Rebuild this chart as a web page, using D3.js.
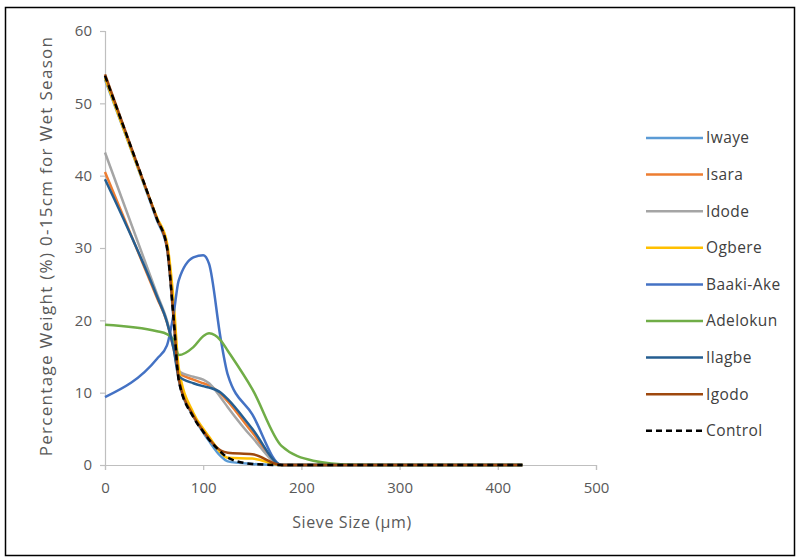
<!DOCTYPE html>
<html>
<head>
<meta charset="utf-8">
<script src="https://cdn.jsdelivr.net/npm/d3@7"></script>
<style>
  html, body { margin: 0; padding: 0; background: #fff; }
  svg { display: block; }
  text { font-family: "Open Sans", "Noto Sans", sans-serif; }
</style>
</head>
<body>
<script>
// ---- Data ----
const sieveSizes = [0, 53, 63, 70, 75, 90, 100, 106, 118, 125, 150, 180, 212, 250, 300, 425];

const seriesNames = ["Iwaye", "Isara", "Idode", "Ogbere", "Baaki-Ake", "Adelokun", "Ilagbe", "Igodo", "Control"];

const iwaye    = [53.3, 33.8, 30.0, 19.8, 11.8, 6.7, 4.5, 3.3, 1.2, 0.5, 0.15, 0, 0, 0, 0, 0];
const isara    = [40.5, 23.1, 19.8, 16.0, 12.8, 11.8, 11.3, 11.0, 9.8, 8.8, 4.5, 0, 0, 0, 0, 0];
const idode    = [43.2, 23.6, 20.0, 16.3, 13.0, 12.2, 11.8, 11.3, 9.3, 8.0, 3.8, 0, 0, 0, 0, 0];
const ogbere   = [53.5, 34.2, 30.8, 22.5, 13.5, 7.2, 5.0, 3.9, 1.7, 1.0, 0.9, 0, 0, 0, 0, 0];
const baakiAke = [9.4, 14.7, 16.5, 21.0, 25.5, 28.7, 29.0, 27.8, 17.3, 12.5, 7.0, 0, 0, 0, 0, 0];
const adelokun = [19.4, 18.5, 18.1, 17.3, 15.2, 16.3, 17.8, 18.2, 17.2, 15.8, 10.5, 2.6, 0.6, 0.05, 0, 0];
const ilagbe   = [39.5, 23.3, 19.8, 16.0, 12.3, 11.3, 10.9, 10.7, 10.0, 9.1, 5.0, 0, 0, 0, 0, 0];
const igodo    = [54.0, 34.0, 30.2, 20.2, 12.0, 6.8, 4.7, 3.6, 2.0, 1.7, 1.5, 0, 0, 0, 0, 0];
const control  = [53.8, 34.0, 30.2, 20.0, 11.8, 6.6, 4.6, 3.5, 1.8, 1.0, 0.15, 0, 0, 0, 0, 0];

const seriesValues = [iwaye, isara, idode, ogbere, baakiAke, adelokun, ilagbe, igodo, control];
const seriesColors = ["#5B9BD5", "#ED7D31", "#A5A5A5", "#FFC000", "#4472C4", "#70AD47", "#255E91", "#9E480E", "#000000"];

const xTicks = [0, 100, 200, 300, 400, 500];
const yTicks = [0, 10, 20, 30, 40, 50, 60];
const xTitle = "Sieve Size (\u00B5m)";
const yTitle = "Percentage Weight (%) 0-15cm for Wet Season";

// ---- Layout ----
const W = 797, H = 557;
const plot = { left: 105, right: 596, top: 31, bottom: 465 };

const svg = d3.select("body").append("svg").attr("width", W).attr("height", H);

// outer border
svg.append("rect")
  .attr("x", 5.5).attr("y", 7.5).attr("width", 789).attr("height", 548)
  .attr("fill", "#fff").attr("stroke", "#000").attr("stroke-width", 1.5);

const x = d3.scaleLinear().domain([0, 500]).range([plot.left, plot.right]);
const y = d3.scaleLinear().domain([0, 60]).range([plot.bottom, plot.top]);

const axisColor = "#BFBFBF";
const labelColor = "#595959";

// x axis
const gx = svg.append("g").attr("transform", `translate(0,${plot.bottom})`)
  .call(d3.axisBottom(x).tickValues(xTicks).tickSize(5).tickPadding(12));
gx.select(".domain").attr("stroke", axisColor).attr("stroke-width", 1.2);
gx.selectAll(".tick line").attr("stroke", axisColor).attr("stroke-width", 1.2);
gx.selectAll(".tick text").attr("fill", labelColor).style("font-size", "15px");

// y axis
const gy = svg.append("g").attr("transform", `translate(${plot.left},0)`)
  .call(d3.axisLeft(y).tickValues(yTicks).tickSize(5).tickPadding(8));
gy.select(".domain").attr("stroke", axisColor).attr("stroke-width", 1.2);
gy.selectAll(".tick line").attr("stroke", axisColor).attr("stroke-width", 1.2);
gy.selectAll(".tick text").attr("fill", labelColor).style("font-size", "15px");

// axis titles
svg.append("text")
  .attr("x", 352).attr("y", 528)
  .attr("text-anchor", "middle")
  .attr("fill", labelColor).style("font-size", "16px").style("letter-spacing", "0.6px")
  .text(xTitle);

svg.append("text")
  .attr("transform", "translate(52,246) rotate(-90)")
  .attr("text-anchor", "middle")
  .attr("fill", labelColor).style("font-size", "17px").style("letter-spacing", "1.3px")
  .text(yTitle);

// lines
const line = d3.line()
  .x((d, i) => x(sieveSizes[i]))
  .y(d => y(d))
  .curve(d3.curveMonotoneX);

const gLines = svg.append("g");
seriesValues.forEach((vals, k) => {
  const p = gLines.append("path")
    .datum(vals)
    .attr("fill", "none")
    .attr("stroke", seriesColors[k])
    .attr("stroke-width", 2.5)
    .attr("stroke-linejoin", "round")
    .attr("d", line);
  if (seriesNames[k] === "Control") p.attr("stroke-dasharray", "6,4");
});

// legend
const legend = svg.append("g");
const legTop = 138, legStep = 36.6;
seriesNames.forEach((name, k) => {
  const yy = legTop + k * legStep;
  const l = legend.append("line")
    .attr("x1", 646).attr("x2", 703).attr("y1", yy).attr("y2", yy)
    .attr("stroke", seriesColors[k]).attr("stroke-width", 2.5);
  if (name === "Control") l.attr("stroke-dasharray", "6,4");
  legend.append("text")
    .attr("x", 706).attr("y", yy).attr("dy", "0.35em")
    .attr("fill", "#404040").style("font-size", "15.5px").style("letter-spacing", "0.4px")
    .text(name);
});
</script>
</body>
</html>
